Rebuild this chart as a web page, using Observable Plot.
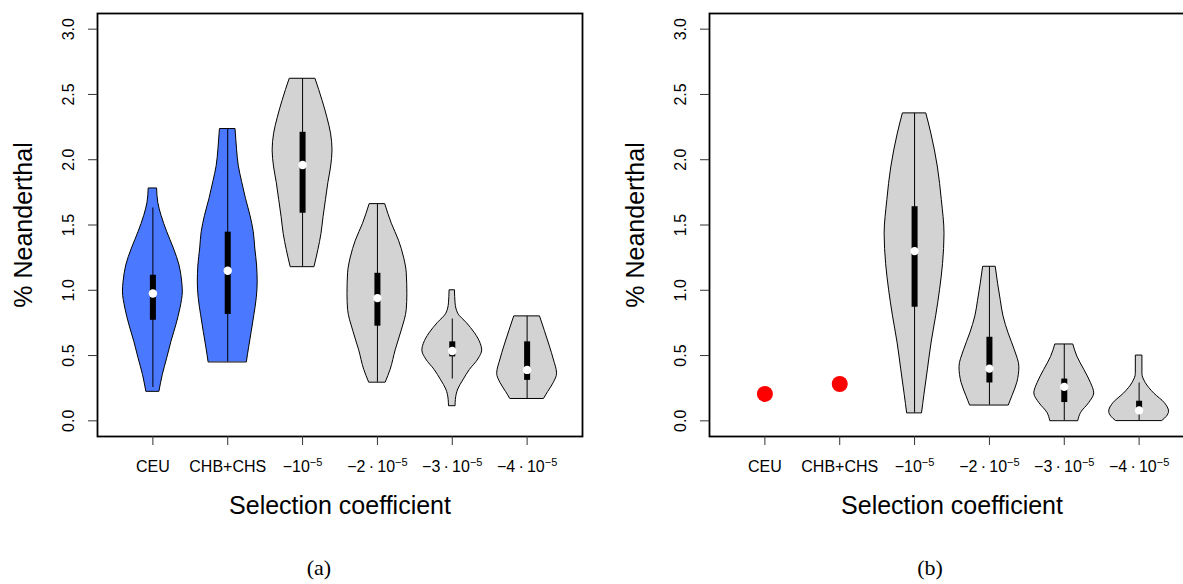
<!DOCTYPE html>
<html>
<head>
<meta charset="utf-8">
<script src="https://cdn.jsdelivr.net/npm/d3@7"></script>
<script src="https://cdn.jsdelivr.net/npm/@observablehq/plot@0.6"></script>
<style>
  html, body { margin: 0; padding: 0; background: #fff; width: 1183px; height: 584px; overflow: hidden; }
  .panel { position: absolute; top: 0; width: 591px; }
  .caption { position: absolute; width: 100px; text-align: center; color: #000;
             font-family: "Liberation Serif", "DejaVu Serif", serif; font-size: 22px; line-height: 22px; }
</style>
</head>
<body>
<div id="panelA" class="panel" style="left:0"></div>
<div id="panelB" class="panel" style="left:612px"></div>
<div class="caption" style="left:269px; top:557px">(a)</div>
<div class="caption" style="left:880px; top:557px">(b)</div>
<script>
// Categories on the x axis (1-based order) and the exponent printed after each label
const groupLabels = ["CEU", "CHB+CHS", "\u221210", "\u22122\u2009\u00b7\u200910", "\u22123\u2009\u00b7\u200910", "\u22124\u2009\u00b7\u200910"];
const groupExponents = ["", "", "\u22125", "\u22125", "\u22125", "\u22125"];
const yTicks = [0, 0.5, 1, 1.5, 2, 2.5, 3];

// Panel (a): kernel density of % Neanderthal per group (value grid, relative density)
const densityGridA = [
  [0.225, 0.35, 0.48, 0.605, 0.73, 0.86, 0.99, 1.06, 1.19, 1.32, 1.445, 1.57, 1.67, 1.78],
  [0.45, 0.555, 0.68, 0.81, 0.94, 1.06, 1.19, 1.32, 1.445, 1.57, 1.70, 1.83, 1.95, 2.08, 2.235],
  [1.18, 1.31, 1.43, 1.56, 1.69, 1.82, 1.94, 2.07, 2.2, 2.32, 2.45, 2.62],
  [0.295, 0.39, 0.54, 0.69, 0.85, 0.97, 1.13, 1.25, 1.38, 1.51, 1.66],
  [0.115, 0.16, 0.24, 0.31, 0.39, 0.47, 0.54, 0.59, 0.67, 0.75, 0.82, 0.9, 1.0],
  [0.17, 0.22, 0.29, 0.36, 0.47, 0.57, 0.69, 0.80]
];
const densityA = [
  [0.22, 0.33, 0.48, 0.62, 0.78, 0.92, 1.0, 0.98, 0.89, 0.70, 0.48, 0.29, 0.18, 0.14],
  [0.64, 0.71, 0.80, 0.89, 0.97, 1.0, 0.98, 0.92, 0.87, 0.76, 0.61, 0.48, 0.37, 0.31, 0.26],
  [0.40, 0.53, 0.63, 0.70, 0.78, 0.86, 0.95, 1.0, 0.95, 0.83, 0.67, 0.43],
  [0.28, 0.44, 0.61, 0.81, 0.98, 1.0, 0.98, 0.89, 0.72, 0.48, 0.26],
  [0.11, 0.12, 0.20, 0.37, 0.59, 0.87, 1.0, 0.95, 0.76, 0.48, 0.20, 0.11, 0.09],
  [0.57, 0.70, 0.89, 1.0, 0.89, 0.76, 0.59, 0.43]
];
// Panel (a): box summaries per group
const whiskerLowA  = [0.255, 0.45, 1.18, 0.295, 0.32, 0.17];
const quartile1A   = [0.77, 0.815, 1.59, 0.725, 0.49, 0.31];
const medianA      = [0.975, 1.15, 1.96, 0.94, 0.535, 0.39];
const quartile3A   = [1.115, 1.445, 2.21, 1.13, 0.605, 0.605];
const whiskerHighA = [1.63, 2.235, 2.62, 1.66, 0.78, 0.80];

// Panel (b): observed values for the two populations
const observedB = [0.206, 0.282];
// Panel (b): simulated distributions for the four selection coefficients (groups 3-6)
const densityGridB = [
  [0.06, 0.2, 0.4, 0.6, 0.8, 1.0, 1.2, 1.43, 1.69, 1.94, 2.2, 2.355],
  [0.12, 0.19, 0.29, 0.41, 0.54, 0.67, 0.80, 0.92, 1.05, 1.18],
  [0.0, 0.06, 0.135, 0.21, 0.29, 0.39, 0.49, 0.585],
  [0.0, 0.03, 0.07, 0.135, 0.21, 0.29, 0.36, 0.50]
];
const densityB = [
  [0.25, 0.33, 0.45, 0.57, 0.72, 0.85, 0.95, 1.0, 0.91, 0.78, 0.56, 0.39],
  [0.65, 0.77, 0.93, 1.0, 0.85, 0.64, 0.47, 0.38, 0.29, 0.21],
  [0.47, 0.56, 0.83, 1.0, 0.89, 0.67, 0.44, 0.30],
  [0.78, 0.92, 1.0, 0.86, 0.50, 0.22, 0.11, 0.11]
];
const whiskerLowB  = [0.06, 0.12, 0.0, 0.0];
const quartile1B   = [0.87, 0.29, 0.14, 0.07];
const medianB      = [1.30, 0.40, 0.26, 0.08];
const quartile3B   = [1.64, 0.64, 0.32, 0.15];
const whiskerHighB = [2.355, 1.18, 0.585, 0.29];

const blue = "#4a78ff";
const grey = "#d3d3d3";
const halfWidth = 0.4; // widest point of each violin, in category units

function violinRows(grids, dens, firstGroup, fillOf) {
  return grids.flatMap((grid, k) => grid.map((value, j) => ({
    group: firstGroup + k, value, density: dens[k][j], fill: fillOf(firstGroup + k)
  })));
}
function boxRows(lo, q1, med, q3, hi, firstGroup) {
  return lo.map((_, k) => ({group: firstGroup + k, lo: lo[k], q1: q1[k], median: med[k], q3: q3[k], hi: hi[k]}));
}

function makePanel(violins, boxes, points) {
  const svg = Plot.plot({
    width: 591, height: 530,
    marginLeft: 97, marginRight: 9, marginTop: 13, marginBottom: 94,
    style: {fontFamily: "'Liberation Sans', Arial, Helvetica, sans-serif", fontSize: "16px", color: "black", background: "white", overflow: "visible"},
    x: {domain: [0.26, 6.74], axis: null},
    y: {domain: [-0.12, 3.12], axis: null},
    color: {type: "identity"},
    marks: [
      Plot.areaX(violins, {
        y: "value",
        x1: d => d.group - halfWidth * d.density,
        x2: d => d.group + halfWidth * d.density,
        z: "group", fill: "fill", stroke: "black", strokeWidth: 1, curve: "monotone-y"
      }),
      Plot.ruleX(boxes, {x: "group", y1: "lo", y2: "hi", stroke: "black", strokeWidth: 1}),
      Plot.ruleX(boxes, {x: "group", y1: "q1", y2: "q3", stroke: "black", strokeWidth: 6}),
      Plot.dot(boxes, {x: "group", y: "median", r: 4.2, fill: "white", stroke: null}),
      Plot.dot(points, {x: "group", y: "value", r: 8, fill: "red", stroke: null}),
      Plot.frame({stroke: "black", strokeWidth: 1.8}),
      Plot.axisY({ticks: yTicks, tickFormat: d3.format(".1f"), tickSize: 9, tickPadding: 15, tickRotate: -90, stroke: "#333", label: null}),
      Plot.axisX({ticks: [1, 2, 3, 4, 5, 6], tickFormat: i => groupLabels[i - 1], tickSize: 9, tickPadding: 15, stroke: "#333", label: null}),
      Plot.text(["% Neanderthal"], {frameAnchor: "left", textAnchor: "middle", rotate: -90, dx: -74, fontSize: 25, lineAnchor: "middle"}),
      Plot.text(["Selection coefficient"], {frameAnchor: "bottom", textAnchor: "middle", dy: 69, fontSize: 25, lineAnchor: "middle"})
    ]
  });
  // superscript exponents on the selection-coefficient tick labels
  d3.select(svg).selectAll('g[aria-label="x-axis tick label"] text').each(function() {
    const idx = groupLabels.indexOf(this.textContent);
    const exp = idx >= 0 ? groupExponents[idx] : "";
    if (exp) d3.select(this).append("tspan").attr("dy", "-0.5em").attr("font-size", "11px").text(exp);
  });
  return svg;
}

const fillA = g => (g <= 2 ? blue : grey);
document.getElementById("panelA").append(makePanel(
  violinRows(densityGridA, densityA, 1, fillA),
  boxRows(whiskerLowA, quartile1A, medianA, quartile3A, whiskerHighA, 1),
  []
));
document.getElementById("panelB").append(makePanel(
  violinRows(densityGridB, densityB, 3, () => grey),
  boxRows(whiskerLowB, quartile1B, medianB, quartile3B, whiskerHighB, 3),
  observedB.map((value, k) => ({group: k + 1, value}))
));
</script>
</body>
</html>
